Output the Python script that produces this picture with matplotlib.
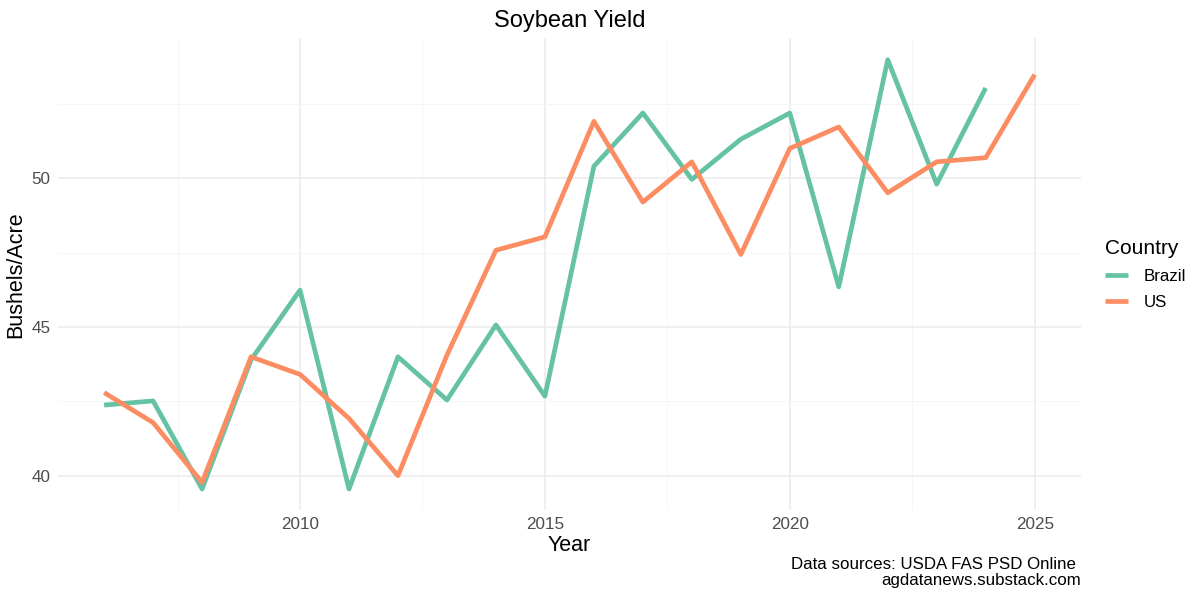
import numpy as np
import matplotlib
matplotlib.use("Agg")
import matplotlib.pyplot as plt
from matplotlib.ticker import MultipleLocator

plt.rcParams['font.family'] = ['Liberation Sans', 'DejaVu Sans']

# Soybean yields (bushels/acre)
years_brazil = list(range(2006, 2025))
brazil = [42.38, 42.52, 39.56, 43.9, 46.24, 39.56, 44.0, 42.55, 45.07, 42.68,
          50.40, 52.19, 49.96, 51.31, 52.19, 46.35, 53.98, 49.80, 53.03]

years_us = list(range(2006, 2026))
us = [42.80, 41.79, 39.78, 44.0, 43.41, 41.93, 40.01, 44.06, 47.58, 48.03,
      51.91, 49.20, 50.55, 47.44, 51.00, 51.72, 49.51, 50.55, 50.69, 53.48]

colors = {"Brazil": "#66C2A5", "US": "#FC8D62"}

fig = plt.figure(figsize=(12, 6.07), dpi=100)
ax = fig.add_axes([0.048, 0.159, 0.853, 0.778])

ax.plot(years_brazil, brazil, color=colors["Brazil"], linewidth=3.4,
        label="Brazil", solid_capstyle="butt")
ax.plot(years_us, us, color=colors["US"], linewidth=3.4,
        label="US", solid_capstyle="butt")

# ggplot-like 5% expansion
xmin, xmax = 2006, 2025
xpad = (xmax - xmin) * 0.05
ax.set_xlim(xmin - xpad, xmax + xpad)
allv = brazil + us
ypad = (max(allv) - min(allv)) * 0.05
ax.set_ylim(min(allv) - ypad, max(allv) + ypad)

# theme_minimal look
for s in ax.spines.values():
    s.set_visible(False)
ax.xaxis.set_major_locator(MultipleLocator(5))
ax.xaxis.set_minor_locator(MultipleLocator(2.5))
ax.yaxis.set_major_locator(MultipleLocator(5))
ax.yaxis.set_minor_locator(MultipleLocator(2.5))
ax.grid(which="major", color="#EBEBEB", linewidth=1.1)
ax.grid(which="minor", color="#F4F4F4", linewidth=0.6)
ax.set_axisbelow(True)
ax.tick_params(which="both", length=0, labelsize=12.3, labelcolor="#4D4D4D")
ax.tick_params(axis="x", pad=5)
ax.tick_params(axis="y", pad=5)

ax.set_title("Soybean Yield", fontsize=17, pad=8)
ax.set_xlabel("Year", fontsize=15.5, labelpad=2)
ax.set_ylabel("Bushels/Acre", fontsize=15.5, labelpad=4)

leg = ax.legend(title="Country", loc="center left", bbox_to_anchor=(1.008, 0.5),
                frameon=False, fontsize=12.2, title_fontsize=15,
                handlelength=1.4, handletextpad=0.9, labelspacing=0.65)
leg._legend_box.align = "left"

fig.text(0.901, 0.057, "Data sources: USDA FAS PSD Online \nagdatanews.substack.com",
         ha="right", va="center", fontsize=12.2, linespacing=1.05)

fig.savefig("out.png", dpi=100, facecolor="white")
